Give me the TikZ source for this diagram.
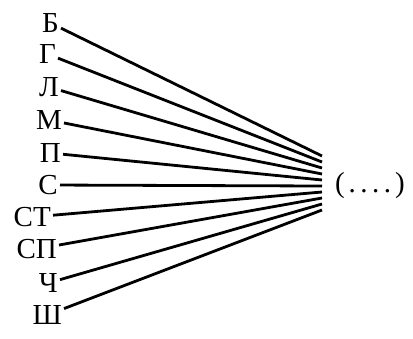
\documentclass[tikz,border=0pt]{standalone}
\usepackage{fontspec}
\setmainfont{Liberation Serif}
\usepackage{tikz}
\usetikzlibrary{positioning}

\begin{document}
\begin{tikzpicture}[x=1pt,y=-1pt,
  lbl/.style={anchor=east,inner sep=2pt,font=\fontsize{29}{31}\selectfont},
  ray/.style={line width=2.8pt}]
\useasboundingbox (0,0) rectangle (413,338);
% letters on the left
\foreach \n/\t/\x/\y in {b/Б/61/23, g/Г/58/54, l/Л/61/87, m/М/64/120,
    p/П/63/153, s/С/60/185, st/СТ/53/217, sp/СП/59/249, ch/Ч/60/283, sh/Ш/64/315}
  \node[lbl] (\n) at (\x,\y) {\t};
% end points of the rays
\foreach \n [count=\i from 0] in {b,g,l,m,p,s,st,sp,ch,sh}
  \coordinate (e-\n) at (322,{156+6*\i});
\node[font=\fontsize{29}{31}\selectfont] (res) at (370,186)
  {(\kern4pt.\kern4.5pt.\kern4.5pt.\kern4.5pt.\kern4pt)};
\foreach \n in {b,g,l,m,p,s,st,sp,ch,sh}
  \draw[ray] (\n) -- (e-\n);
\end{tikzpicture}
\end{document}
